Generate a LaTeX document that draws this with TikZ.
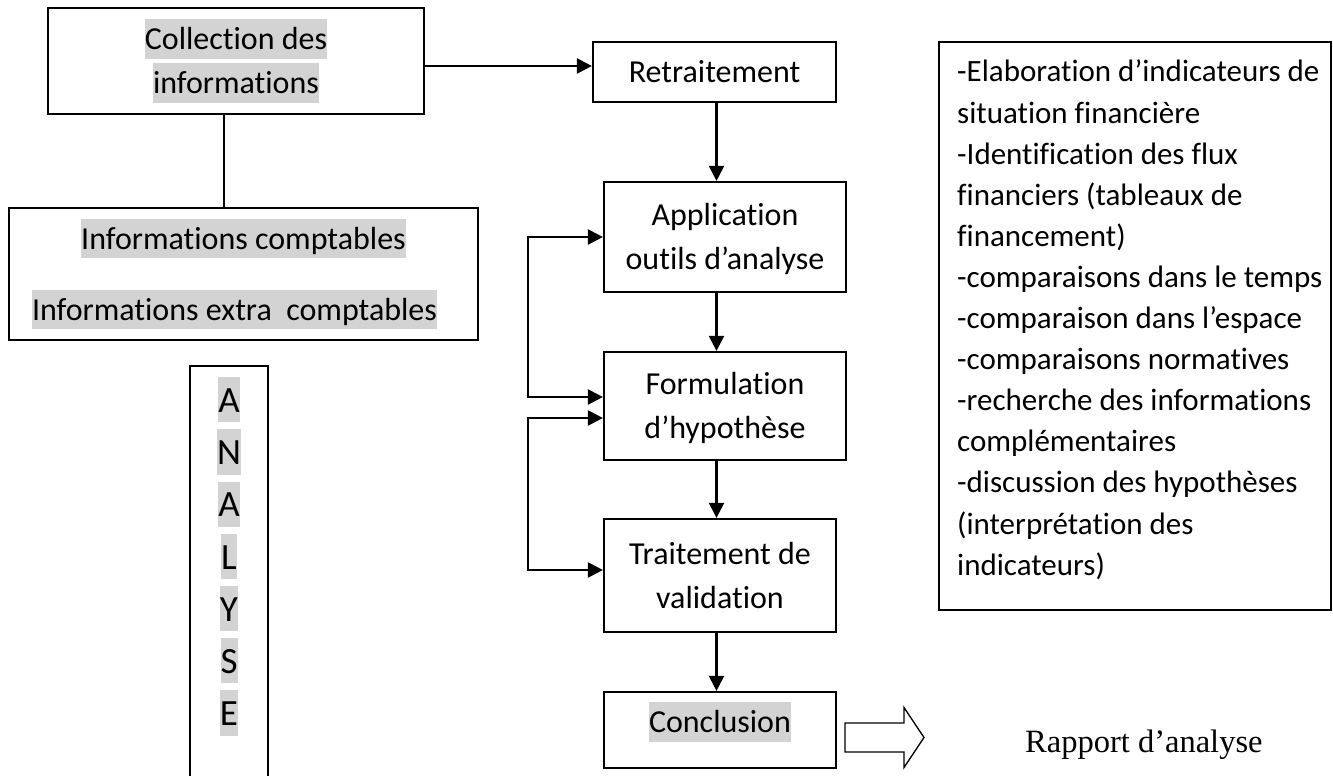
\documentclass[tikz,border=0pt]{standalone}
\usepackage{fontspec}
\setmainfont{Carlito}[Ligatures={NoCommon}]
\newfontfamily\rapfont{Liberation Serif}
\usetikzlibrary{arrows.meta,calc}
\definecolor{hlgray}{RGB}{211,211,211}
% strut spanning the full line height, used for highlights and line placement
\newcommand\stru{\rule[-0.269em]{0pt}{1.221em}}
\newcommand\hlt[1]{{\setlength{\fboxsep}{0pt}\colorbox{hlgray}{\stru#1}}}
\newcommand\pln[1]{\stru#1}

\begin{document}
\begin{tikzpicture}[x=1pt,y=-1pt,
  box/.style={draw, line width=2.2pt, rectangle, inner sep=2pt, align=center,
              font=\fontsize{32}{44}\selectfont},
  link/.style={line width=2.2pt},
  >={Triangle[length=15pt,width=15pt]}]
\useasboundingbox (0,0) rectangle (1333,776);
\clip (0,0) rectangle (1333,776);

% left column
\node[box, minimum width=376pt, minimum height=106pt] (coll) at (236,61)
  {\hlt{Collection des}\\\hlt{informations}};
\node[box, minimum width=469pt, minimum height=132pt,
      font=\fontsize{32}{71}\selectfont] (info) at (243.5,274)
  {\hlt{Informations comptables}\\\hlt{Informations extra\ \ comptables}\hspace*{18pt}};
\node[draw, line width=2.2pt, minimum width=78pt, minimum height=434pt, inner sep=0]
  (anbox) at (229,583) {};
\node[anchor=north, inner sep=0, align=center, font=\fontsize{37}{52.2}\selectfont]
  (anltr) at (229,377)
  {\hlt{A}\\\hlt{N}\\\hlt{A}\\\hlt{L}\\\hlt{Y}\\\hlt{S}\\\hlt{E}};

% middle column
\node[box, minimum width=243pt, minimum height=60pt] (retr) at (714.5,72)
  {\pln{Retraitement}};
\node[box, minimum width=242pt, minimum height=110pt] (appl) at (725,237)
  {\pln{Application}\\\pln{outils d’analyse}};
\node[box, minimum width=242pt, minimum height=108pt] (form) at (725,406)
  {\pln{Formulation}\\\pln{d’hypothèse}};
\node[box, minimum width=232pt, minimum height=113pt] (trait) at (720,575.5)
  {\pln{Traitement de}\\\pln{validation}};
\node[box, minimum width=232pt, minimum height=76pt, text depth=24.6pt] (conc) at (720,730)
  {\hlt{Conclusion}};

% right column
\node[draw, line width=2.2pt, minimum width=392pt, minimum height=568pt, inner sep=0]
  (rb) at (1135,326) {};
\node[anchor=north west, inner sep=0, align=left, font=\fontsize{31}{41.1}\selectfont]
  (rbtxt) at (957,52.2)
  {\pln{-Elaboration d’indicateurs de}\\
   \pln{situation financière}\\
   \pln{-Identification des flux}\\
   \pln{financiers (tableaux de}\\
   \pln{financement)}\\
   \pln{-comparaisons dans le temps}\\
   \pln{-comparaison dans l’espace}\\
   \pln{-comparaisons normatives}\\
   \pln{-recherche des informations}\\
   \pln{complémentaires}\\
   \pln{-discussion des hypothèses}\\
   \pln{(interprétation des}\\
   \pln{indicateurs)}};

\node[anchor=base west, inner sep=0, font=\rapfont\fontsize{32.5}{39}\selectfont]
  (rap) at (1025,752) {Rapport d’analyse};

% connectors
\coordinate (rowtop) at (0,66);
\coordinate (stem) at (224,0);
\coordinate (colx) at (716.5,0);
\coordinate (loopx) at (528,0);

\draw[link,->] (coll.east |- rowtop) -- (retr.west |- rowtop);
\draw[link] (coll.south -| stem) -- (info.north -| stem);
\draw[link,->] (retr.south -| colx) -- (appl.north -| colx);
\draw[link,->] (appl.south -| colx) -- (form.north -| colx);
\draw[link,->] (form.south -| colx) -- (trait.north -| colx);
\draw[link,->] (trait.south -| colx) -- (conc.north -| colx);

% feedback loops
\draw[link,<->] (appl.west) -- (appl.west -| loopx) |- ([yshift=9pt]form.west);
\draw[link,<->] ([yshift=-12pt]form.west) -- ([yshift=-12pt]form.west -| loopx)
  |- ([yshift=5.5pt]trait.west);

% hollow block arrow towards the report
\draw[line width=1.3pt, line join=miter]
  (845,723) -- (904,723) -- (904,707.5) -- (924,737.5) -- (904,767.5)
  -- (904,752) -- (845,752) -- cycle;
\end{tikzpicture}
\end{document}
